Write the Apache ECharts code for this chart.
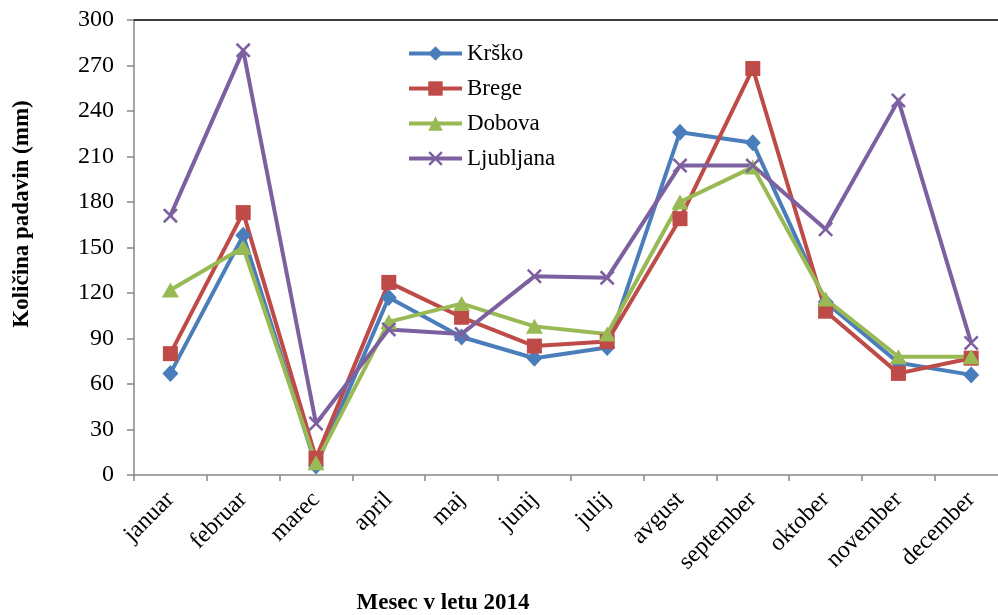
<!DOCTYPE html>
<html>
<head>
<meta charset="utf-8">
<script src="https://cdn.jsdelivr.net/npm/echarts@6/dist/echarts.min.js"></script>
<style>html,body{margin:0;padding:0;background:#fff}#c{width:998px;height:615px}</style>
</head>
<body>
<div id="c"></div>
<script>
var months = ['januar','februar','marec','april','maj','junij','julij','avgust','september','oktober','november','december'];
var krsko = [67, 158, 6, 117, 91, 77, 84, 226, 219, 114, 74, 66];
var brege = [80, 173, 11, 127, 104, 85, 88, 169, 268, 108, 67, 77];
var dobova = [122, 150, 8, 101, 113, 98, 93, 180, 203, 116, 78, 78];
var ljubljana = [171, 280, 34, 96, 93, 131, 130, 204, 204, 162, 247, 87];
var yTitle = 'Količina padavin (mm)';
var xTitle = 'Mesec v letu 2014';

var FONT = 'Liberation Serif';
var xPath = 'path://M0,1.2 L1.2,0 L5,3.8 L8.8,0 L10,1.2 L6.2,5 L10,8.8 L8.8,10 L5,6.2 L1.2,10 L0,8.8 L3.8,5 Z';

function mk(name, data, color, symbol, size) {
  return {
    name: name, type: 'line', data: data,
    symbol: symbol, symbolSize: size, showSymbol: true,
    lineStyle: {color: color, width: 4},
    itemStyle: {color: color},
    clip: false
  };
}

var chart = echarts.init(document.getElementById('c'), null, {renderer: 'canvas'});
chart.setOption({
  animation: false,
  backgroundColor: '#fff',
  grid: {left: 134, top: 20, width: 873.6, height: 455, containLabel: false, outerBoundsMode: 'none'},
  legend: {
    orient: 'vertical', left: 407, top: 42, padding: 0, itemWidth: 53, itemHeight: 18, itemGap: 12,
    lineStyle: {width: 4},
    textStyle: {fontFamily: FONT, fontSize: 23, color: '#000', padding: [0,0,0,0]},
    data: ['Krško','Brege','Dobova','Ljubljana']
  },
  xAxis: [{
    type: 'category', data: months, position: 'bottom',
    axisLine: {lineStyle: {color: '#868686', width: 1.5}},
    axisTick: {show: true, length: 6, lineStyle: {color: '#868686', width: 1.5}},
    axisLabel: {rotate: 45, margin: 21, fontFamily: FONT, fontSize: 24, color: '#000', interval: 0},
    splitLine: {show: false}
  }, {
    type: 'category', data: months, position: 'top',
    axisLine: {show: true, lineStyle: {color: '#000', width: 1.5}},
    axisTick: {show: false}, axisLabel: {show: false}
  }],
  yAxis: {
    type: 'value', min: 0, max: 300, interval: 30,
    axisLine: {show: true, lineStyle: {color: '#868686', width: 1.5}},
    axisTick: {show: true, length: 7, lineStyle: {color: '#868686', width: 1.5}},
    axisLabel: {margin: 20, fontFamily: FONT, fontSize: 24, color: '#000'},
    splitLine: {show: false}
  },
  graphic: [
    {type: 'text', x: 22, y: 214, rotation: Math.PI/2,
     style: {text: yTitle, font: 'bold 23px "Liberation Serif"', fill: '#000', align: 'center', verticalAlign: 'middle'}},
    {type: 'text', x: 443, y: 603,
     style: {text: xTitle, font: 'bold 23px "Liberation Serif"', fill: '#000', align: 'center', verticalAlign: 'middle'}}
  ],
  series: [
    mk('Krško', krsko, '#4A7EBB', 'diamond', [16, 17]),
    mk('Brege', brege, '#BE4B48', 'rect', 15),
    mk('Dobova', dobova, '#98B954', 'triangle', [17, 15]),
    mk('Ljubljana', ljubljana, '#7D60A0', xPath, 15)
  ]
});
</script>
</body>
</html>
